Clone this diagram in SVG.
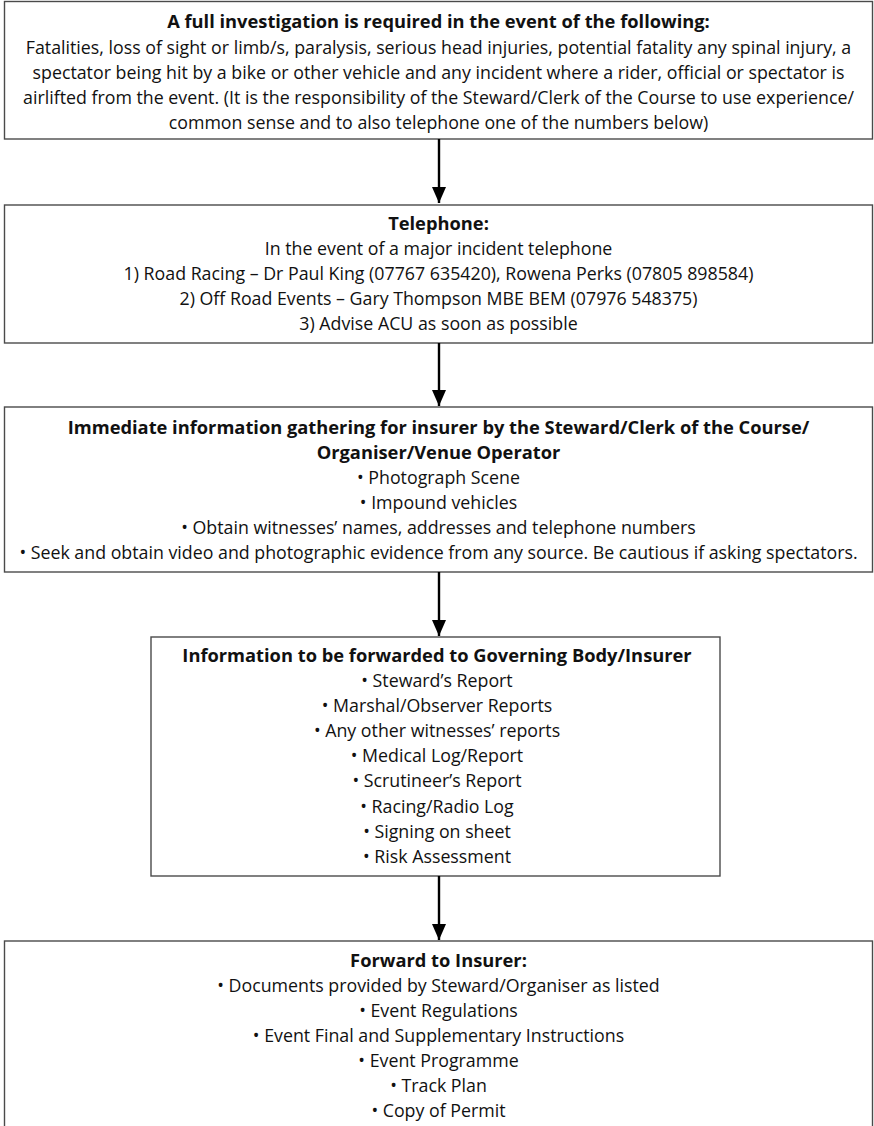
<svg xmlns="http://www.w3.org/2000/svg" width="874" height="1126" viewBox="0 0 874 1126">
<style>
.box{fill:#fff;stroke:#4a4a4a;stroke-width:1.4}
text{font-family:"Open Sans","Noto Sans","Liberation Sans",sans-serif;font-size:17.8px;fill:#111;text-anchor:middle}
.b{font-weight:bold;font-size:18.3px}
.conn line{stroke:#000;stroke-width:2.4}
</style>
<defs>
<marker id="ah" markerUnits="userSpaceOnUse" markerWidth="17" markerHeight="14" refX="16" refY="7" orient="auto" viewBox="0 0 17 14">
<path d="M0,0 L16,7 L0,14 Z" fill="#000"/>
</marker>
</defs>
<rect width="874" height="1126" fill="#fff"/>
<g id="n1">
<rect class="box" x="4.5" y="1.5" width="868" height="137.5"/>
<text class="b" x="438.5" y="28">A full investigation is required in the event of the following:</text>
<text x="438.5" y="54">Fatalities, loss of sight or limb/s, paralysis, serious head injuries, potential fatality any spinal injury, a</text>
<text x="438.5" y="79">spectator being hit by a bike or other vehicle and any incident where a rider, official or spectator is</text>
<text x="438.5" y="104">airlifted from the event. (It is the responsibility of the Steward/Clerk of the Course to use experience/</text>
<text x="438.5" y="129">common sense and to also telephone one of the numbers below)</text>
</g>
<g id="n2">
<rect class="box" x="4.5" y="205" width="868" height="138"/>
<text class="b" x="438.5" y="230">Telephone:</text>
<text x="438.5" y="255">In the event of a major incident telephone</text>
<text x="438.5" y="280">1) Road Racing – Dr Paul King (07767 635420), Rowena Perks (07805 898584)</text>
<text x="438.5" y="305">2) Off Road Events – Gary Thompson MBE BEM (07976 548375)</text>
<text x="438.5" y="330">3) Advise ACU as soon as possible</text>
</g>
<g id="n3">
<rect class="box" x="4.5" y="407" width="868" height="165"/>
<text class="b" x="438.5" y="434">Immediate information gathering for insurer by the Steward/Clerk of the Course/</text>
<text class="b" x="438.5" y="459">Organiser/Venue Operator</text>
<text x="438.5" y="484">• Photograph Scene</text>
<text x="438.5" y="509">• Impound vehicles</text>
<text x="438.5" y="534">• Obtain witnesses’ names, addresses and telephone numbers</text>
<text x="438.5" y="559">• Seek and obtain video and photographic evidence from any source. Be cautious if asking spectators.</text>
</g>
<g id="n4">
<rect class="box" x="151" y="637" width="569" height="239"/>
<text class="b" x="437" y="662">Information to be forwarded to Governing Body/Insurer</text>
<text x="437" y="687">• Steward’s Report</text>
<text x="437" y="712">• Marshal/Observer Reports</text>
<text x="437" y="737">• Any other witnesses’ reports</text>
<text x="437" y="762">• Medical Log/Report</text>
<text x="437" y="787">• Scrutineer’s Report</text>
<text x="437" y="813">• Racing/Radio Log</text>
<text x="437" y="838">• Signing on sheet</text>
<text x="437" y="863">• Risk Assessment</text>
</g>
<g id="n5">
<rect class="box" x="4.5" y="941" width="868" height="200"/>
<text class="b" x="438.5" y="967">Forward to Insurer:</text>
<text x="438.5" y="992">• Documents provided by Steward/Organiser as listed</text>
<text x="438.5" y="1017">• Event Regulations</text>
<text x="438.5" y="1042">• Event Final and Supplementary Instructions</text>
<text x="438.5" y="1067">• Event Programme</text>
<text x="438.5" y="1092">• Track Plan</text>
<text x="438.5" y="1117">• Copy of Permit</text>
</g>
<g id="connectors" class="conn">
<line x1="439" y1="139" x2="439" y2="203" marker-end="url(#ah)"/>
<line x1="439" y1="343" x2="439" y2="406" marker-end="url(#ah)"/>
<line x1="439" y1="572" x2="439" y2="636" marker-end="url(#ah)"/>
<line x1="439" y1="876" x2="439" y2="940" marker-end="url(#ah)"/>
</g>
</svg>
